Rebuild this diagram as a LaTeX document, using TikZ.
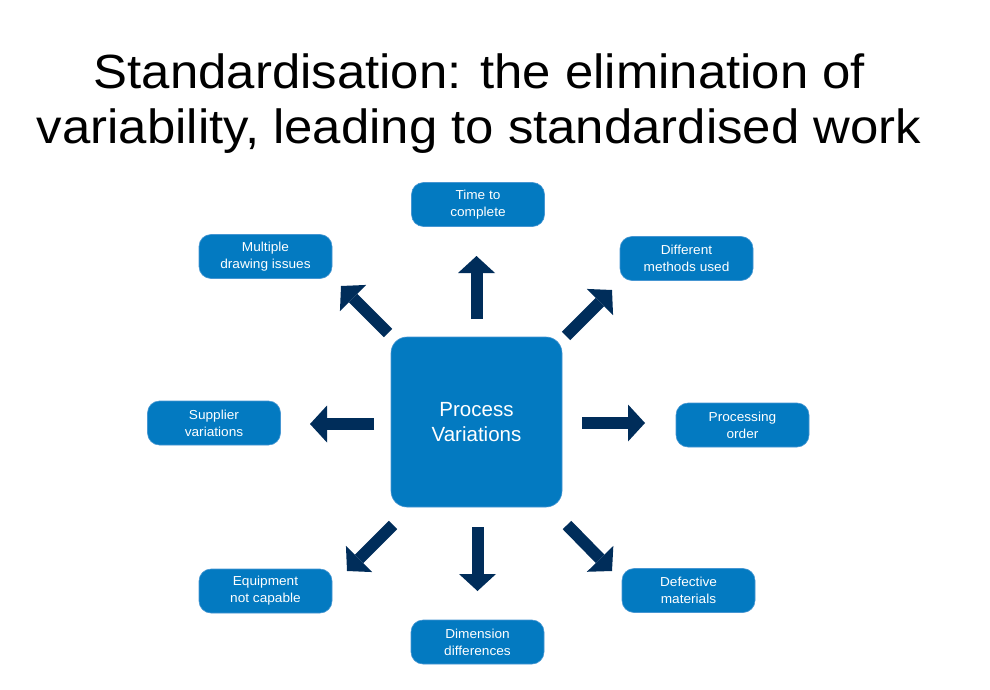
\documentclass[tikz,border=0pt]{standalone}
\usepackage{fontspec}
\setmainfont{Liberation Sans}
\newfontfamily\titlefont[FakeStretch=1.06]{Liberation Sans}
\newfontfamily\boxfontfam[FakeStretch=1.05]{Liberation Sans}
\usetikzlibrary{arrows.meta}
\definecolor{boxblue}{RGB}{3,122,193}
\definecolor{boxedge}{RGB}{70,150,210}
\definecolor{navy}{RGB}{0,45,90}
\tikzset{
  sbox/.style={rectangle, rounded corners=12pt, fill=boxblue, draw=boxedge, line width=0.6pt,
    minimum width=133pt, minimum height=44pt, inner sep=0pt, text=white, align=center,
    font=\boxfontfam\fontsize{13}{17}\selectfont},
  bigbox/.style={rectangle, rounded corners=16pt, fill=boxblue, draw=boxedge, line width=0.6pt,
    minimum width=171pt, minimum height=170pt, inner sep=0pt, text=white, align=center,
    font=\fontsize{20.5}{25}\selectfont},
  titletext/.style={anchor=base, inner sep=0pt, text=black, font=\titlefont\fontsize{48}{54}\selectfont},
  blockarrow/.style={draw=navy, line width=12pt, -{Triangle[width=37pt,length=17pt,line width=0pt]}}
}
\begin{document}
\begin{tikzpicture}[x=1pt,y=-1pt]
\useasboundingbox (0,0) rectangle (990,690);
\fill[white] (0,0) rectangle (990,690);
% title
\node[titletext] (t1) at (479.5,89) {Standardisation: the elimination of};
\node[titletext] (t2) at (479,143) {variability, leading to standardised work};
% boxes
\node[bigbox] (pv) at (476.5,422) {Process\\Variations};
\node[sbox] (time) at (478,204.5) {Time to\\complete};
\node[sbox] (diff) at (686.5,258.5) {Different\\methods used};
\node[sbox] (multi) at (265.5,256.5) {Multiple\\drawing issues};
\node[sbox] (supp) at (214,423) {Supplier\\variations};
\node[sbox] (proc) at (742.5,425) {Processing\\order};
\node[sbox] (equip) at (265.5,591) {Equipment\\not capable};
\node[sbox] (dim) at (477.5,642) {Dimension\\differences};
\node[sbox] (defect) at (688.5,590.5) {Defective\\materials};
% arrow ends
\coordinate (uT) at (476.5,319);  \coordinate (uH) at (476.5,256);
\coordinate (urT) at (566,336);   \coordinate (urH) at (612,290);
\coordinate (ulT) at (388,333);   \coordinate (ulH) at (341,286);
\coordinate (lT) at (374,424);    \coordinate (lH) at (310,424);
\coordinate (rT) at (582,423);    \coordinate (rH) at (645,423);
\coordinate (dlT) at (393,525);   \coordinate (dlH) at (347,571);
\coordinate (dT) at (477.5,527);  \coordinate (dH) at (477.5,591);
\coordinate (drT) at (567,525);   \coordinate (drH) at (612,571);
\draw[blockarrow] (uT) -- (uH);
\draw[blockarrow] (urT) -- (urH);
\draw[blockarrow] (ulT) -- (ulH);
\draw[blockarrow] (lT) -- (lH);
\draw[blockarrow] (rT) -- (rH);
\draw[blockarrow] (dlT) -- (dlH);
\draw[blockarrow] (dT) -- (dH);
\draw[blockarrow] (drT) -- (drH);
\end{tikzpicture}
\end{document}
